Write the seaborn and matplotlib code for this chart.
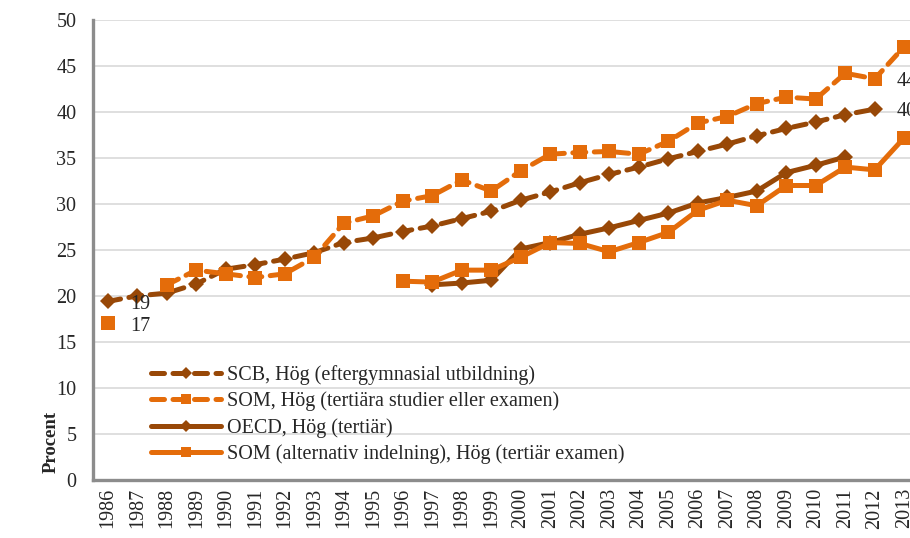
import numpy as np
import pandas as pd
import matplotlib.pyplot as plt
import seaborn as sns

# data (procent per year)
years = list(range(1986, 2014))
nan = np.nan

scb = [19.4, 20.0, 20.3, 21.3, 22.9, 23.4, 24.0, 24.7, 25.8, 26.3, 27.0, 27.6, 28.4, 29.2,
       30.4, 31.3, 32.3, 33.2, 34.0, 34.9, 35.7, 36.5, 37.4, 38.2, 38.9, 39.7, 40.3, nan]
som = [17.0, nan, 21.2, 22.8, 22.4, 22.0, 22.4, 24.2, 27.9, 28.7, 30.3, 30.9, 32.6, 31.4,
       33.6, 35.4, 35.6, 35.7, 35.4, 36.8, 38.8, 39.5, 40.9, 41.6, 41.4, 44.2, 43.6, 47.1]
oecd = [nan] * 11 + [21.2, 21.4, 21.7, 25.1, 25.8, 26.7, 27.4, 28.2, 29.0, 30.1, 30.7,
                     31.4, 33.4, 34.2, 35.1] + [nan] * 2
som_alt = [nan] * 10 + [21.6, 21.5, 22.8, 22.8, 24.2, 25.8, 25.7, 24.8, 25.8, 26.9, 29.3,
                        30.4, 29.8, 32.0, 32.0, 34.0, 33.7, 37.2]

labels = ["SCB, Hög (eftergymnasial utbildning)",
          "SOM, Hög (tertiära studier eller examen)",
          "OECD, Hög (tertiär)",
          "SOM (alternativ indelning), Hög (tertiär examen)"]

# data labels: (series, year, text)
point_labels = [(scb, 1986, "19"), (som, 1986, "17"), (som, 2012, "44"), (scb, 2012, "40")]

brown = "#984807"
orange = "#E46C0A"

sns.set_style("white")
plt.rcParams['font.family'] = ['Liberation Serif', 'DejaVu Serif']

fig = plt.figure(figsize=(9.1, 5.38), dpi=100)
ax = fig.add_axes([0.1022, 0.108, 0.9077, 0.855])

styles = [
    dict(color=brown, marker="D", markersize=8.5, linestyle=(0, (2.6, 1.7))),
    dict(color=orange, marker="s", markersize=9.5, linestyle=(0, (2.6, 1.7))),
    dict(color=brown, marker="D", markersize=8.5, linestyle="-"),
    dict(color=orange, marker="s", markersize=9.5, linestyle="-"),
]

handles = []
for vals, lab, st in zip([scb, som, oecd, som_alt], labels, styles):
    df = pd.DataFrame({"year": years, "val": vals})
    # split into runs without missing values so gaps are not bridged
    grp = df["val"].isna().cumsum()
    first = True
    for _, part in df[df["val"].notna()].groupby(grp[df["val"].notna()]):
        sns.lineplot(data=part, x="year", y="val", ax=ax, linewidth=3.6,
                     markeredgewidth=0, dash_capstyle="round", solid_capstyle="round",
                     label=lab if first else None, **st)
        first = False
    handles.append(ax.get_lines()[-1])

for vals, yr, txt in point_labels:
    ax.annotate(txt, (yr, vals[years.index(yr)]), xytext=(16, -2), textcoords="offset points",
                ha="left", va="center", fontsize=14.5)

ax.set_xlim(1985.5, 2013.5)
ax.set_ylim(0, 50)
ax.set_yticks(range(0, 51, 5))
ax.set_xticks(years)
ax.set_xticklabels([str(y) for y in years], rotation=90)
ax.set_xticks(np.arange(1985.5, 2014, 1), minor=True)
ax.tick_params(axis="x", which="major", length=0, pad=6, labelsize=14.5)
ax.tick_params(axis="x", which="minor", length=6, width=2, color="#8C8C8C", direction="out")
ax.tick_params(axis="y", length=6, width=2, color="#8C8C8C", direction="out", pad=6, labelsize=14.5)
ax.yaxis.grid(True, color="#D9D9D9", linewidth=1.2)
ax.set_axisbelow(True)
for side in ["top", "right"]:
    ax.spines[side].set_visible(False)
for side in ["left", "bottom"]:
    ax.spines[side].set_color("#8C8C8C")
    ax.spines[side].set_linewidth(2.4)

ax.set_xlabel("")
ax.set_ylabel("Procent", fontsize=13.5, fontweight="bold")
ax.yaxis.set_label_coords(-0.04, 0.083)

ax.legend(handles=handles, labels=labels, loc="upper left", bbox_to_anchor=(0.07, 0.25),
          frameon=False, fontsize=14.5, handlelength=3.5, handletextpad=0.3, labelspacing=0.33,
          borderpad=0, borderaxespad=0, markerscale=0.7)

fig.savefig("out.png", dpi=100)
